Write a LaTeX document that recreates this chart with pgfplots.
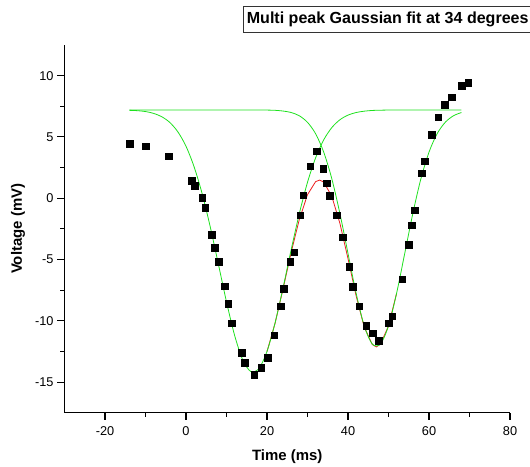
\documentclass[border=0pt]{standalone}
\usepackage{fontspec}
\setmainfont{Liberation Sans}
\usepackage{pgfplots}
\pgfplotsset{compat=1.18}
\definecolor{fitgreen}{RGB}{30,225,30}
\definecolor{fitred}{RGB}{235,30,30}
\begin{document}
\begin{tikzpicture}[x=1bp,y=1bp]
\useasboundingbox (-64.5,-54.3) rectangle (465.5,412.7);
\begin{axis}[
  at={(0,0)}, anchor=south west,
  scale only axis, width=445.5bp, height=367.7bp,
  xmin=-30, xmax=80, ymin=-17.5, ymax=12.5,
  axis lines=left, axis line style={-, line width=1.5bp},
  xtick={-20,0,20,40,60,80}, ytick={-15,-10,-5,0,5,10},
  minor x tick num=1, minor y tick num=1,
  tick align=outside, major tick length=7bp, minor tick length=4bp,
  tick style={line width=1.1bp, black},
  /pgf/number format/assume math mode=true,
  ticklabel style={font=\fontsize{12.8}{14}\selectfont},
  xticklabel style={yshift=-3.5bp},
  yticklabel style={xshift=-0.5bp},
  xlabel={Time (ms)}, ylabel={Voltage (mV)},
  label style={font=\bfseries\fontsize{15}{17}\selectfont},
  xlabel style={at={(axis description cs:0.5,-0.1205)}, anchor=center},
  ylabel style={at={(axis description cs:-0.104,0.5)}, anchor=center},
  clip=false,
]
% sum of the two peaks (red)
\addplot[fitred, line width=0.8bp] coordinates {
(20,-12.51) (22,-10.19) (24,-7.34) (26,-4.36) (28,-1.71) (30,0.29) (32,1.35) (33,1.48) (34,1.32) (36,0.15) (38,-2.05) (40,-4.93) (42,-7.96) (44,-10.51) (46,-11.94) (47,-12.13) (48,-11.92) (50,-10.42) (52,-7.75)
};
% first Gaussian peak (green)
\addplot[fitgreen, line width=0.8bp, smooth] coordinates {
(-14,7.17) (-12,7.14) (-10,7.07) (-8,6.92) (-6,6.65) (-4,6.18) (-2,5.41) (0,4.24) (2,2.56) (4,0.35) (6,-2.36) (8,-5.39) (10,-8.46) (12,-11.19) (14,-13.19) (16,-14.14) (18,-13.90) (20,-12.50) (22,-10.16) (24,-7.25) (26,-4.15) (28,-1.23) (30,1.30) (32,3.29) (34,4.76) (36,5.76) (38,6.40) (40,6.78) (42,6.99) (44,7.10) (46,7.16) (48,7.18) (52,7.20) (60,7.20) (68,7.20)
};
% second Gaussian peak (green)
\addplot[fitgreen, line width=0.8bp, smooth] coordinates {
(-14,7.20) (0,7.20) (10,7.20) (18,7.20) (20,7.19) (22,7.17) (24,7.11) (26,6.99) (28,6.72) (30,6.19) (32,5.26) (34,3.76) (36,1.59) (38,-1.25) (40,-4.51) (42,-7.75) (44,-10.41) (46,-11.90) (48,-11.90) (50,-10.41) (52,-7.75) (54,-4.51) (56,-1.25) (58,1.59) (60,3.76) (62,5.26) (64,6.19) (66,6.72) (68,6.99)
};
% measured data
\addplot[only marks, mark=square*, mark size=3.3bp, black] coordinates {
(-13.9,4.43) (-9.89,4.24) (-4.28,3.43) (1.41,1.41) (2.22,1.03) (3.95,0.05) (4.70,-0.79) (6.28,-2.99) (7.02,-4.03) (8.08,-5.20) (9.49,-7.18) (10.43,-8.60) (11.22,-10.20) (13.69,-12.59) (14.51,-13.41) (16.81,-14.41) (18.54,-13.82) (20.12,-13.00) (21.75,-11.17) (23.33,-8.80) (24.10,-7.40) (25.70,-5.20) (26.67,-4.42) (28.15,-1.38) (28.89,0.24) (30.65,2.62) (32.30,3.83) (33.86,2.41) (34.70,1.22) (35.52,0.21) (37.17,-1.39) (38.66,-3.18) (40.29,-5.60) (41.13,-7.21) (42.76,-8.81) (44.49,-10.42) (46.07,-11.01) (47.63,-11.64) (50.10,-10.20) (50.91,-9.62) (53.39,-6.61) (54.97,-3.78) (55.78,-2.20) (56.53,-0.98) (58.18,2.04) (59.00,3.02) (60.65,5.19) (62.28,6.61) (63.93,7.63) (65.60,8.24) (68.07,9.18) (69.63,9.43)
};
\end{axis}
\node[draw=black!80, line width=0.7bp, anchor=north west, inner xsep=3.5bp, inner ysep=5.5bp, text height=11.8bp, text depth=3.2bp, font=\bfseries\fontsize{16.1}{19}\selectfont] at (178.5,406.7) {Multi peak Gaussian fit at 34 degrees};
\end{tikzpicture}
\end{document}
